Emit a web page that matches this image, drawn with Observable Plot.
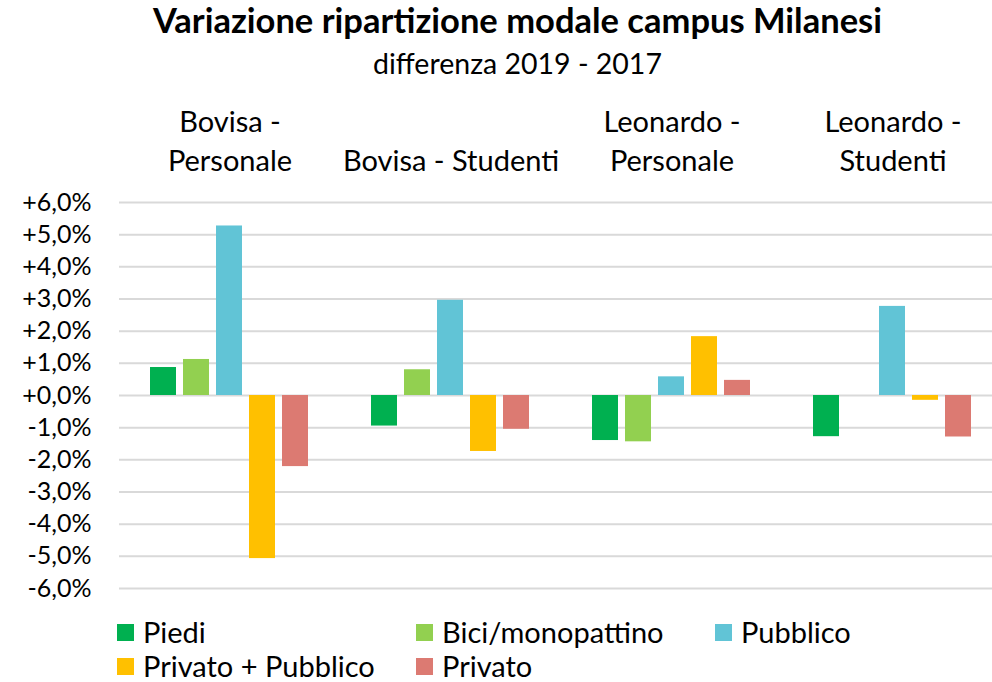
<!DOCTYPE html>
<html>
<head>
<meta charset="utf-8">
<script src="https://cdn.jsdelivr.net/npm/d3@7"></script>
<script src="https://cdn.jsdelivr.net/npm/@observablehq/plot@0.6"></script>
<style>
  html, body { margin: 0; padding: 0; }
  body { width: 992px; height: 682px; overflow: hidden; position: relative; background: #fff; font-family: Lato, "Open Sans", sans-serif; color: #000; }
  #title { position: absolute; left: 0; width: 1035px; top: 0px; text-align: center; font-weight: bold; font-size: 34.5px; line-height: 40px; white-space: nowrap; }
  #subtitle { position: absolute; left: 0; width: 1035px; top: 46px; text-align: center; font-size: 28.5px; line-height: 34px; white-space: nowrap; }
  #chart { position: absolute; left: 0; top: 80px; width: 1010px; }
  #chart svg { max-width: none !important; width: 1010px; height: 520px; }
  #legend { position: absolute; left: 117px; top: 615px; display: grid; grid-template-columns: 299px 299px 299px; font-size: 29px; line-height: 34px; white-space: nowrap; }
  .item { display: flex; align-items: center; }
  .sw { width: 17px; height: 17px; margin-right: 9px; flex: none; }
</style>
</head>
<body>
<div id="title">Variazione ripartizione modale campus Milanesi</div>
<div id="subtitle">differenza 2019 - 2017</div>
<div id="chart"></div>
<div id="legend"></div>
<script>
const categories = ["Bovisa - Personale", "Bovisa - Studenti", "Leonardo - Personale", "Leonardo - Studenti"];
const categoryLabels = ["Bovisa -\nPersonale", "Bovisa - Studenti", "Leonardo -\nPersonale", "Leonardo -\nStudenti"];
const series = ["Piedi", "Bici/monopattino", "Pubblico", "Privato + Pubblico", "Privato"];
const colors = ["#00B050", "#92D050", "#61C4D6", "#FFC000", "#DC7A72"];
const piedi = [0.87, -0.95, -1.40, -1.28];
const bici = [1.12, 0.80, -1.44, null];
const pubblico = [5.27, 2.96, 0.58, 2.77];
const privatoPubblico = [-5.07, -1.74, 1.83, -0.15];
const privato = [-2.21, -1.05, 0.47, -1.29];
const yTicks = [-6, -5, -4, -3, -2, -1, 0, 1, 2, 3, 4, 5, 6];

const seriesValues = [piedi, bici, pubblico, privatoPubblico, privato];
const data = [];
categories.forEach((c, i) => {
  series.forEach((s, j) => {
    const v = seriesValues[j][i];
    if (v != null) data.push({cat: c, series: s, value: v});
  });
});

const fmt = d => (d < 0 ? "-" : "+") + Math.abs(d).toFixed(1).replace(".", ",") + "%";

const chart = Plot.plot({
  width: 1010,
  height: 520,
  marginTop: 122,
  marginBottom: 12,
  marginLeft: 119,
  marginRight: 7,
  style: { fontFamily: "Lato, 'Open Sans', sans-serif", fontSize: "25px", color: "#000", background: "#fff", maxWidth: "none" },
  fx: { domain: categories, padding: 0, axis: null },
  x: { domain: series, paddingInner: 0.21, paddingOuter: 0.865, axis: null },
  y: { domain: [-6, 6], axis: null },
  color: { domain: series, range: colors },
  marks: [
    Plot.gridY(yTicks, { stroke: "#D9D9D9", strokeOpacity: 1, strokeWidth: 2 }),
    Plot.axisY(yTicks, { tickSize: 0, tickPadding: 28, tickFormat: fmt, fontSize: 25, fill: "#000", label: null }),
    Plot.barY(data, { fx: "cat", x: "series", y: "value", fill: "series" }),
    Plot.text(categories, { fx: d => d, text: (d, i) => categoryLabels[i], frameAnchor: "top", lineAnchor: "bottom", dy: -32, lineHeight: 1.32, fontSize: 29, fill: "#000" })
  ]
});
document.getElementById("chart").appendChild(chart);

const legend = document.getElementById("legend");
series.forEach((s, i) => {
  const item = document.createElement("div");
  item.className = "item";
  const sw = document.createElement("span");
  sw.className = "sw";
  sw.style.background = colors[i];
  const t = document.createElement("span");
  t.textContent = s;
  item.appendChild(sw);
  item.appendChild(t);
  legend.appendChild(item);
});
</script>
</body>
</html>
